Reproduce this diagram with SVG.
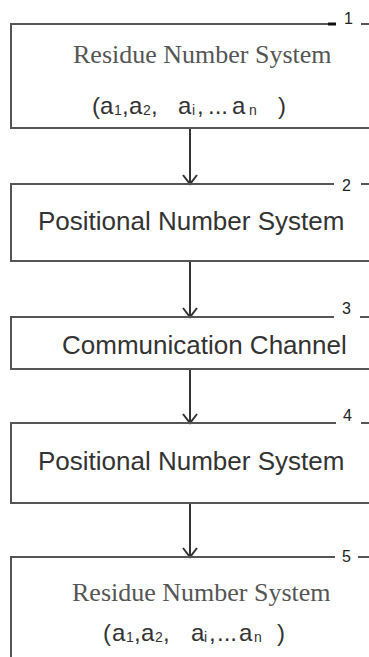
<svg xmlns="http://www.w3.org/2000/svg" width="369" height="657" viewBox="0 0 369 657">
<style>
.box{fill:none;stroke:#555;stroke-width:2}
.edge{fill:none;stroke:#333;stroke-width:2}
.serif{font-family:"Liberation Serif","Times New Roman",serif;font-size:26px;fill:#555}
.sans{font-family:"Liberation Sans",Arial,sans-serif;font-size:26px;fill:#333}
.tup{font-family:"Liberation Sans",Arial,sans-serif;font-size:24px;fill:#333}
.sub{font-size:14px}
.num{font-family:"Liberation Sans",Arial,sans-serif;font-size:16px;fill:#222}
</style>
<defs>
<marker id="arr" viewBox="0 0 16 16" refX="14" refY="8" markerWidth="16" markerHeight="16" markerUnits="userSpaceOnUse" orient="auto">
<path d="M5,1 L14,8 L5,15" fill="none" stroke="#333" stroke-width="2"/>
</marker>
</defs>
<rect width="369" height="657" fill="#fff"/>
<g id="connectors">
<line class="edge" x1="190" y1="128" x2="190" y2="184" marker-end="url(#arr)"/>
<line class="edge" x1="190" y1="261" x2="190" y2="317" marker-end="url(#arr)"/>
<line class="edge" x1="190" y1="369" x2="190" y2="423" marker-end="url(#arr)"/>
<line class="edge" x1="190" y1="503" x2="190" y2="557" marker-end="url(#arr)"/>
</g>
<g id="node1">
<path class="box" d="M334,24 H11 V128 H369"/>
<line x1="328" y1="24" x2="336" y2="24" stroke="#111" stroke-width="3"/>
<line class="box" x1="361" y1="24" x2="369" y2="24"/>
<text class="num" x="344" y="24">1</text>
<text class="serif" x="73" y="63">Residue Number System</text>
<text class="tup" y="114"><tspan x="92">(</tspan><tspan x="100">a</tspan><tspan class="sub" x="114" dy="1">1</tspan><tspan x="122" dy="-1">,</tspan><tspan x="129">a</tspan><tspan class="sub" x="143" dy="1">2</tspan><tspan x="151" dy="-1">,</tspan><tspan x="178">a</tspan><tspan class="sub" x="192" dy="1">i</tspan><tspan x="197" dy="-1">,</tspan><tspan x="208">...</tspan><tspan x="232">a</tspan><tspan class="sub" x="249" dy="1">n</tspan><tspan x="278" dy="-1">)</tspan></text>
</g>
<g id="node2">
<path class="box" d="M334,184 H11 V261 H369"/>
<line class="box" x1="361" y1="184" x2="369" y2="184"/>
<text class="num" x="342" y="191">2</text>
<text class="sans" x="38" y="230">Positional Number System</text>
</g>
<g id="node3">
<path class="box" d="M334,317 H11 V369 H369"/>
<line class="box" x1="360" y1="317" x2="369" y2="317"/>
<text class="num" x="342" y="314">3</text>
<text class="sans" x="62" y="354">Communication Channel</text>
</g>
<g id="node4">
<path class="box" d="M336,423 H11 V503 H369"/>
<line class="box" x1="361" y1="423" x2="369" y2="423"/>
<text class="num" x="343" y="421">4</text>
<text class="sans" x="38" y="470">Positional Number System</text>
</g>
<g id="node5">
<path class="box" d="M335,557 H11 V657"/>
<line class="box" x1="358" y1="557" x2="369" y2="557"/>
<text class="num" x="342" y="562">5</text>
<text class="serif" x="72" y="601">Residue Number System</text>
<text class="tup" y="641"><tspan x="103">(</tspan><tspan x="112">a</tspan><tspan class="sub" x="126" dy="1">1</tspan><tspan x="134" dy="-1">,</tspan><tspan x="141">a</tspan><tspan class="sub" x="155" dy="1">2</tspan><tspan x="163" dy="-1">,</tspan><tspan x="191">a</tspan><tspan class="sub" x="204" dy="1">i</tspan><tspan x="209" dy="-1">,</tspan><tspan x="217">...</tspan><tspan x="239">a</tspan><tspan class="sub" x="254" dy="1">n</tspan><tspan x="277" dy="-1">)</tspan></text>
</g>
</svg>
